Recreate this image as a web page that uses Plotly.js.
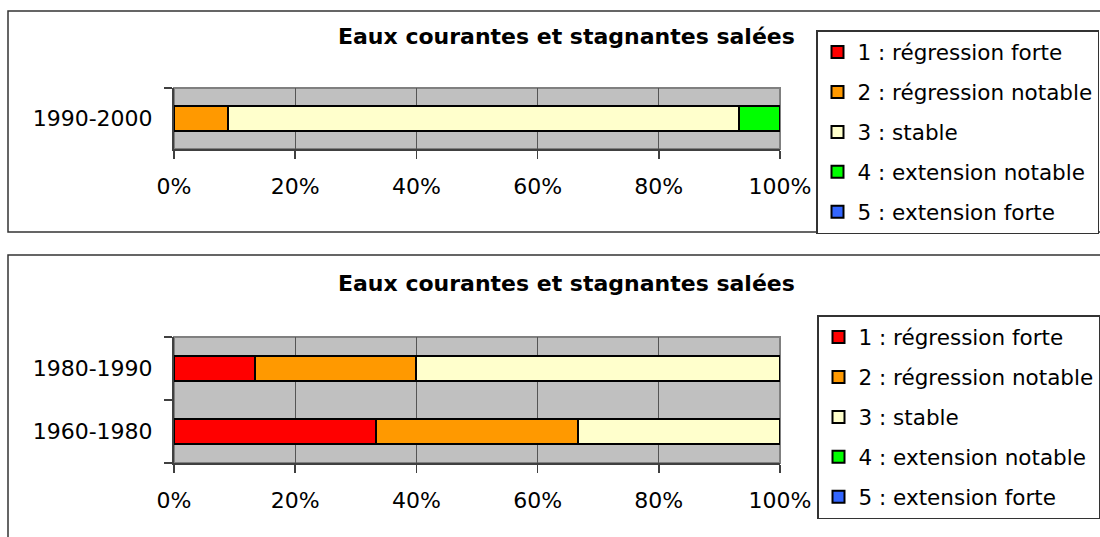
<!DOCTYPE html>
<html>
<head>
<meta charset="utf-8">
<script src="https://cdn.plot.ly/plotly-3.0.1.min.js"></script>
<style>
  html, body { margin: 0; padding: 0; background: #ffffff; }
  #chart { width: 1100px; height: 537px; }
</style>
</head>
<body>
<div id="chart"></div>
<script>
// ---- Data ----
const chartTitle = "Eaux courantes et stagnantes salées";
const seriesNames = ["1 : régression forte", "2 : régression notable", "3 : stable", "4 : extension notable", "5 : extension forte"];
const seriesColors = ["#FF0000", "#FF9900", "#FFFFCC", "#00FF00", "#3366FF"];

// Top chart (1990-2000), percentages
const topCategories = ["1990-2000"];
const top_s1 = [0];
const top_s2 = [8.9];
const top_s3 = [84.4];
const top_s4 = [6.7];
const top_s5 = [0];

// Bottom chart (1980-1990, 1960-1980), percentages
const bottomCategories = ["1980-1990", "1960-1980"];
const bot_s1 = [13.3, 33.3];
const bot_s2 = [26.7, 33.3];
const bot_s3 = [60.0, 33.4];
const bot_s4 = [0, 0];
const bot_s5 = [0, 0];

const xTickVals = [0, 20, 40, 60, 80, 100];
const xTickText = ["0%", "20%", "40%", "60%", "80%", "100%"];

// ---- Build traces ----
const topSeries = [top_s1, top_s2, top_s3, top_s4, top_s5];
const botSeries = [bot_s1, bot_s2, bot_s3, bot_s4, bot_s5];
const traces = [];
topSeries.forEach((vals, i) => {
  traces.push({
    type: "bar", orientation: "h",
    x: vals, y: topCategories,
    name: seriesNames[i],
    xaxis: "x", yaxis: "y",
    legend: "legend", legendgroup: "t" + i,
    marker: { color: seriesColors[i], line: { color: "#000000", width: 2 } },
    hoverinfo: "x+name"
  });
});
botSeries.forEach((vals, i) => {
  traces.push({
    type: "bar", orientation: "h",
    x: vals, y: bottomCategories,
    name: seriesNames[i],
    xaxis: "x2", yaxis: "y2",
    legend: "legend2", legendgroup: "b" + i,
    marker: { color: seriesColors[i], line: { color: "#000000", width: 2 } },
    hoverinfo: "x+name"
  });
});

const W = 1100, H = 537;
const px = v => v / W;
const py = v => 1 - v / H;

const tickFont = { family: "DejaVu Sans", size: 22, color: "#000000" };

function xAxis(anchor) {
  return {
    anchor: anchor,
    domain: [px(174), px(780)],
    range: [0, 100],
    tickvals: xTickVals, ticktext: xTickText,
    showgrid: true, gridcolor: "#555555", gridwidth: 1,
    showline: true, linecolor: "#404040", linewidth: 2,
    ticks: "outside", ticklen: 8, tickcolor: "#404040", tickwidth: 1.5,
    tickfont: tickFont, ticklabelstandoff: 9,
    zeroline: false, automargin: false, fixedrange: true
  };
}
function yAxis(anchor, domain, cats) {
  return {
    anchor: anchor,
    domain: domain,
    type: "category",
    categoryorder: "array", categoryarray: cats.slice().reverse(),
    range: [-0.5, cats.length - 0.5],
    showgrid: false,
    showline: true, linecolor: "#404040", linewidth: 2,
    ticks: "outside", tickson: "boundaries", ticklen: 8, tickcolor: "#404040", tickwidth: 1.5,
    tickfont: tickFont, ticklabelstandoff: 15,
    zeroline: false, automargin: false, fixedrange: true
  };
}

const legendCommon = {
  xanchor: "left", yanchor: "top",
  bgcolor: "#ffffff", bordercolor: "#333333", borderwidth: 1.5,
  font: { family: "DejaVu Sans", size: 21.5, color: "#000000" },
  tracegroupgap: 9, traceorder: "grouped"
};

const layout = {
  width: W, height: H,
  margin: { l: 0, r: 0, t: 0, b: 0, autoexpand: false },
  paper_bgcolor: "#ffffff",
  plot_bgcolor: "#C0C0C0",
  font: { family: "DejaVu Sans", color: "#000000" },
  barmode: "stack",
  barnorm: "percent",
  bargap: 0.6,
  showlegend: true,
  xaxis: xAxis("y"),
  yaxis: yAxis("x", [py(149), py(88)], topCategories),
  xaxis2: xAxis("y2"),
  yaxis2: yAxis("x2", [py(463), py(337)], bottomCategories),
  legend: Object.assign({ x: px(816), y: py(30) }, legendCommon),
  legend2: Object.assign({ x: px(817), y: py(315) }, legendCommon),
  annotations: [
    { text: "<b>" + chartTitle + "</b>", xref: "paper", yref: "paper", x: px(566), y: py(36),
      xanchor: "center", yanchor: "middle", showarrow: false,
      font: { family: "DejaVu Sans", size: 22, color: "#000000" } },
    { text: "<b>" + chartTitle + "</b>", xref: "paper", yref: "paper", x: px(566), y: py(283),
      xanchor: "center", yanchor: "middle", showarrow: false,
      font: { family: "DejaVu Sans", size: 22, color: "#000000" } }
  ],
  shapes: [
    // outer panel frames
    { type: "rect", xref: "paper", yref: "paper", x0: px(8), x1: 1.01, y0: py(232), y1: py(11),
      line: { color: "#333333", width: 1.5 }, fillcolor: "rgba(0,0,0,0)", layer: "below" },
    { type: "rect", xref: "paper", yref: "paper", x0: px(8), x1: 1.01, y0: -0.02, y1: py(255),
      line: { color: "#333333", width: 1.5 }, fillcolor: "rgba(0,0,0,0)", layer: "below" },
    // plot area borders (grey)
    { type: "rect", xref: "x domain", yref: "y domain", x0: 0, x1: 1, y0: 0, y1: 1,
      line: { color: "#808080", width: 2 }, fillcolor: "rgba(0,0,0,0)", layer: "below" },
    { type: "rect", xref: "x2 domain", yref: "y2 domain", x0: 0, x1: 1, y0: 0, y1: 1,
      line: { color: "#808080", width: 2 }, fillcolor: "rgba(0,0,0,0)", layer: "below" }
  ]
};

Plotly.newPlot("chart", traces, layout, { displayModeBar: false, staticPlot: true });
</script>
</body>
</html>
